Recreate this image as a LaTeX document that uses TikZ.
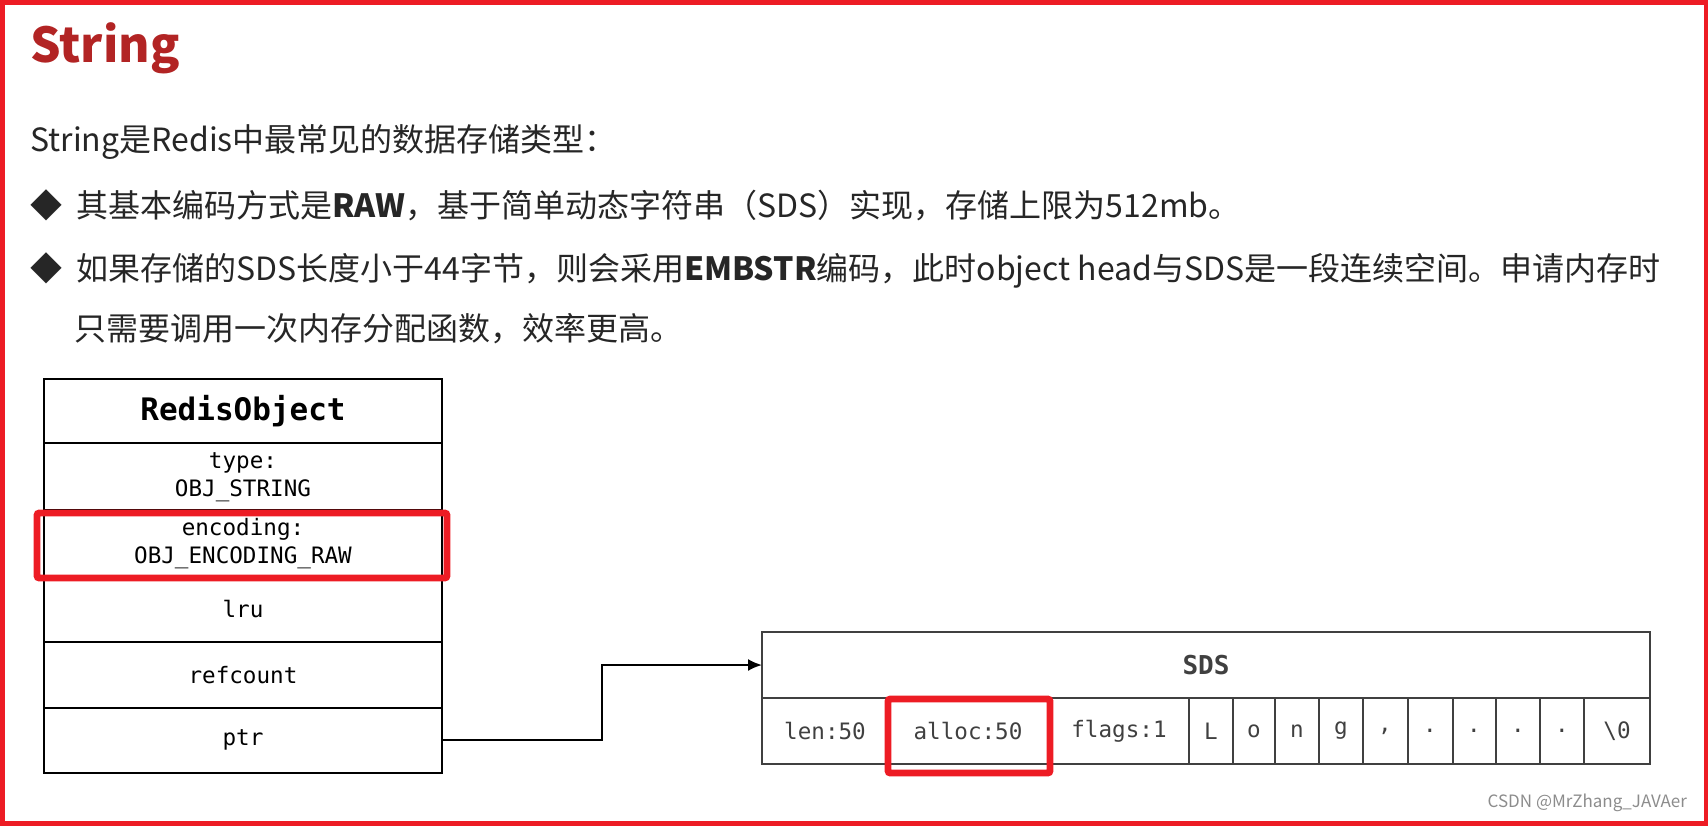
\documentclass[tikz,border=0pt]{standalone}
\usepackage{fontspec}
\setmainfont{Noto Sans CJK SC}
\setmonofont{DejaVu Sans Mono}
\usetikzlibrary{arrows.meta}
\definecolor{titlered}{RGB}{178,36,36}
\definecolor{hired}{RGB}{237,28,36}
\definecolor{txt}{RGB}{38,38,38}
\definecolor{cellt}{RGB}{64,64,64}
\begin{document}
\begin{tikzpicture}[x=0.5pt,y=-0.5pt,
  body/.style={anchor=west,inner sep=0pt,font=\fontsize{16}{19}\selectfont,text=txt},
  mono/.style={font=\ttfamily\fontsize{11.3}{14}\selectfont,align=center},
  cell/.style={draw=black!75,line width=0.8pt},
  hl/.style={draw=hired,line width=3.3pt,rounded corners=1pt}]
\useasboundingbox (0,0) rectangle (1708,825);
\draw[hired,line width=2.5pt] (2,2) rectangle (1706,823);
\node[anchor=base west,inner sep=0pt,text=titlered,font=\bfseries\fontsize{24}{28}\selectfont] (title) at (30,62) {String};
\node[body] (l1) at (30,142) {String是Redis中最常见的数据存储类型：};
\node[body] (b1) at (30,205) {◆\hspace{7pt}其基本编码方式是\textbf{RAW}，基于简单动态字符串（SDS）实现，存储上限为512mb。};
\node[body] (b2) at (30,270) {◆\hspace{7pt}如果存储的SDS长度小于44字节，则会采用\textbf{EMBSTR}编码，此时object head与SDS是一段连续空间。申请内存时};
\node[body] (b3) at (74,329) {只需要调用一次内存分配函数，效率更高。};
% RedisObject
\draw[black,line width=1.2pt] (44,379) rectangle (442,773);
\foreach \y in {443,510,577,642,708} \draw[black,line width=1.2pt] (44,\y) -- (442,\y);
\node[mono,font=\ttfamily\bfseries\fontsize{15.5}{18}\selectfont] (ro) at (243,411) {RedisObject};
\node[mono] (ty) at (243,477) {type:\\OBJ\_STRING};
\node[mono] (en) at (243,544) {encoding:\\OBJ\_ENCODING\_RAW};
\node[mono] (lru) at (243,609) {lru};
\node[mono] (rc) at (243,675) {refcount};
\node[mono] (ptr) at (243,740) {ptr};
\draw[hl] (37,513) rectangle (447,578);
\coordinate (pe) at (442,740);
% SDS
\draw[cell] (762,632) rectangle (1650,698);
\node[font=\ttfamily\bfseries\fontsize{13}{16}\selectfont,text=cellt] (sds) at (1206,665) {SDS};
\coordinate (sl) at (762,665);
\draw[cell] (762,698) rectangle (1650,764);
\foreach \x in {888,1049,1189,1233,1275,1319,1363,1408,1453,1496,1540,1584} \draw[cell] (\x,698) -- (\x,764);
\foreach \t/\x in {len:50/825,alloc:50/968,flags:1/1119,L/1211,o/1254,n/1297,g/1341,{,}/1385,./1430,./1474,./1518,./1562,\textbackslash 0/1617}
  \node[mono,text=cellt] at (\x,731) {\t};
\draw[hl] (888,699) rectangle (1050,773);
\draw[-{Latex[length=7pt,width=6pt]},line width=1pt] (pe) -- (602,740) |- (sl);
\node[anchor=east,font=\fontsize{8.5}{10}\selectfont,text=black!45] (wm) at (1694,803) {CSDN @MrZhang\_JAVAer};
\end{tikzpicture}
\end{document}
